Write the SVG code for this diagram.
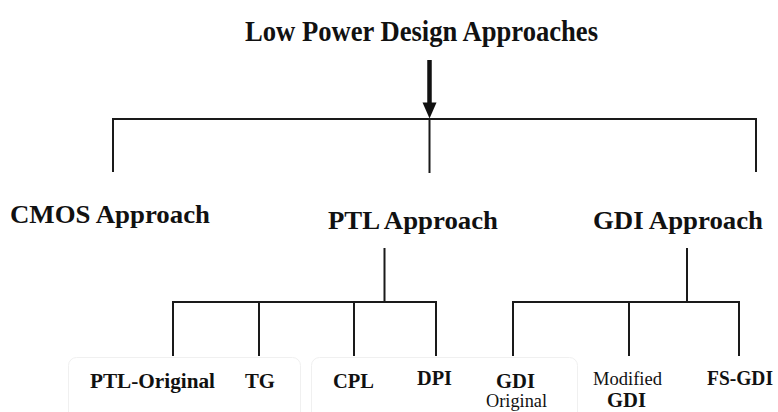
<svg xmlns="http://www.w3.org/2000/svg" width="778" height="412" viewBox="0 0 778 412">
<style>
text{font-family:'Liberation Serif',Tinos,'Times New Roman',Times,serif;fill:#111;}
.b{font-weight:700;}
.r{font-weight:400;}
.ln{stroke:#1a1a1a;stroke-width:2;fill:none;stroke-linecap:square;}
.bx{stroke:#f0f0f0;stroke-width:1;fill:none;}
</style>
<rect width="778" height="412" fill="#fff"/>
<g id="faint-boxes">
<rect class="bx" x="68.5" y="357.5" width="232" height="70" rx="8"/>
<rect class="bx" x="311.5" y="357.5" width="266" height="70" rx="8"/>
</g>
<g id="connectors">
<line x1="429.5" y1="60" x2="429.5" y2="103" stroke="#111" stroke-width="4.5"/>
<path d="M422.5,102.5 L436.5,102.5 L429.5,118.5 Z" fill="#111"/>
<path class="ln" d="M113,119 H756 M113,119 V171 M429.5,119 V172 M756,119 V171"/>
<path class="ln" d="M384.5,249 V302 M173,302 H436 M173,302 V355 M259,302 V355 M354,302 V355 M436,302 V355"/>
<path class="ln" d="M687,249 V302 M513,302 H739 M513,302 V355 M629,302 V355 M739,302 V355"/>
</g>
<g id="root"><text class="b" x="245" y="41" font-size="28.5" textLength="353" lengthAdjust="spacingAndGlyphs">Low Power Design Approaches</text></g>
<g id="cmos"><text class="b" x="10" y="222.5" font-size="24.5" textLength="200" lengthAdjust="spacingAndGlyphs">CMOS Approach</text></g>
<g id="ptl"><text class="b" x="328" y="229" font-size="24.5" textLength="170" lengthAdjust="spacingAndGlyphs">PTL Approach</text></g>
<g id="gdi"><text class="b" x="593" y="229" font-size="24.5" textLength="170" lengthAdjust="spacingAndGlyphs">GDI Approach</text></g>
<g id="ptl-original"><text class="b" x="90" y="388" font-size="21" textLength="125" lengthAdjust="spacingAndGlyphs">PTL-Original</text></g>
<g id="tg"><text class="b" x="245" y="388" font-size="21" textLength="30" lengthAdjust="spacingAndGlyphs">TG</text></g>
<g id="cpl"><text class="b" x="333" y="388" font-size="21" textLength="41" lengthAdjust="spacingAndGlyphs">CPL</text></g>
<g id="dpi"><text class="b" x="417" y="385" font-size="21" textLength="35" lengthAdjust="spacingAndGlyphs">DPI</text></g>
<g id="gdi-original">
<text class="b" x="496" y="388" font-size="21" textLength="39" lengthAdjust="spacingAndGlyphs">GDI</text>
<text class="r" x="486" y="407" font-size="18.5" textLength="61" lengthAdjust="spacingAndGlyphs">Original</text>
</g>
<g id="modified-gdi">
<text class="r" x="593" y="385" font-size="19" textLength="69" lengthAdjust="spacingAndGlyphs">Modified</text>
<text class="b" x="607" y="407" font-size="21" textLength="39" lengthAdjust="spacingAndGlyphs">GDI</text>
</g>
<g id="fs-gdi"><text class="b" x="707" y="385" font-size="21" textLength="66" lengthAdjust="spacingAndGlyphs">FS-GDI</text></g>
</svg>
